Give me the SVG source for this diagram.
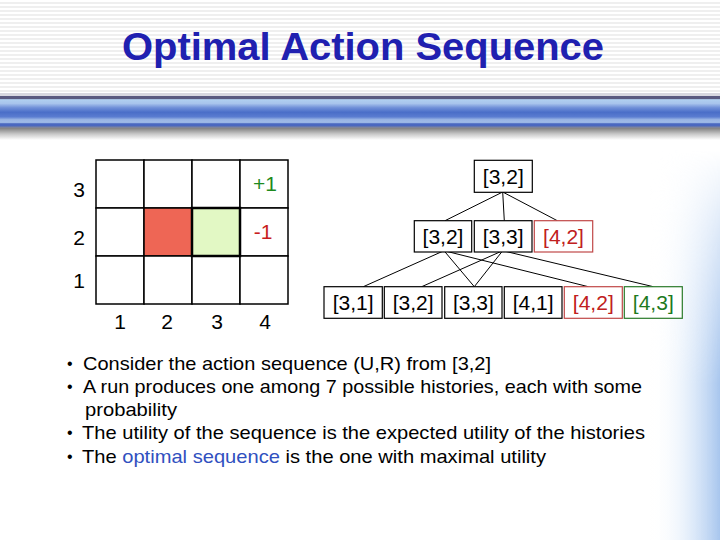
<svg xmlns="http://www.w3.org/2000/svg" width="720" height="540" viewBox="0 0 720 540">
<defs>
  <pattern id="stripes" x="0" y="0" width="8" height="4" patternUnits="userSpaceOnUse">
    <rect width="8" height="4" fill="#ffffff"/>
    <rect y="2" width="8" height="2" fill="#efefef"/>
  </pattern>
  <linearGradient id="band" x1="0" y1="0" x2="0" y2="1">
    <stop offset="0" stop-color="#d8d8e0"/>
    <stop offset="0.08" stop-color="#d8d8e0"/>
    <stop offset="0.1" stop-color="#5a5a80"/>
    <stop offset="0.16" stop-color="#5a5a80"/>
    <stop offset="0.19" stop-color="#b0d0f0"/>
    <stop offset="0.3" stop-color="#a8c4ec"/>
    <stop offset="0.42" stop-color="#7090d8"/>
    <stop offset="0.55" stop-color="#4a6ec8"/>
    <stop offset="0.68" stop-color="#5a7cd0"/>
    <stop offset="0.76" stop-color="#98b4e4"/>
    <stop offset="0.84" stop-color="#a0bce8"/>
    <stop offset="0.88" stop-color="#4a68c0"/>
    <stop offset="0.93" stop-color="#4a68c0"/>
    <stop offset="1" stop-color="#8a8a90"/>
  </linearGradient>
  <linearGradient id="shadow" x1="0" y1="0" x2="0" y2="1">
    <stop offset="0" stop-color="#808080"/>
    <stop offset="0.5" stop-color="#c8c8c8"/>
    <stop offset="1" stop-color="#ffffff"/>
  </linearGradient>
  <linearGradient id="edgeH" x1="0" y1="0" x2="1" y2="0">
    <stop offset="0" stop-color="#ffffff" stop-opacity="0"/>
    <stop offset="0.5" stop-color="#e0ecfa" stop-opacity="0.7"/>
    <stop offset="1" stop-color="#a8c6ee"/>
  </linearGradient>
  <linearGradient id="edgeV" x1="0" y1="0" x2="0" y2="1">
    <stop offset="0" stop-color="#000000"/>
    <stop offset="0.2" stop-color="#606060"/>
    <stop offset="0.6" stop-color="#ffffff"/>
  </linearGradient>
  <mask id="edgeMask">
    <rect x="650" y="150" width="70" height="390" fill="url(#edgeV)"/>
  </mask>
  <style>
    .lbl { font-family: "Liberation Sans", Arial, sans-serif; font-size: 21px; fill: #000; text-anchor: middle; }
    .node rect { fill: #ffffff; stroke: #000; stroke-width: 1.2; }
    .node text { font-family: "Liberation Sans", Arial, sans-serif; font-size: 21px; fill: #000; text-anchor: middle; }
    .red rect { stroke: #c04848; }
    .red text { fill: #c02020; }
    .green rect { stroke: #2a7a2a; }
    .green text { fill: #1e7a1e; }
    .cell { fill: #ffffff; stroke: #000; stroke-width: 1.5; }
    .body { font-family: "Liberation Sans", Arial, sans-serif; font-size: 19px; fill: #000; }
    .dot { font-family: "Liberation Sans", Arial, sans-serif; font-size: 16px; fill: #000; }
    #connectors line { stroke: #000; stroke-width: 1; }
  </style>
</defs>

<rect width="720" height="540" fill="#ffffff"/>
<rect x="0" y="0" width="720" height="94" fill="url(#stripes)"/>
<rect x="650" y="150" width="70" height="390" fill="url(#edgeH)" mask="url(#edgeMask)"/>

<!-- header band -->
<rect x="0" y="93" width="720" height="35" fill="url(#band)"/>
<rect x="0" y="128" width="720" height="12" fill="url(#shadow)"/>

<text x="122" y="60" textLength="482" lengthAdjust="spacingAndGlyphs" font-family="'Liberation Sans', Arial, sans-serif" font-weight="bold" font-size="38" fill="#2020b0">Optimal Action Sequence</text>

<!-- grid -->
<g id="grid">
  <rect class="cell" x="96" y="160" width="48" height="48"/>
  <rect class="cell" x="144" y="160" width="48" height="48"/>
  <rect class="cell" x="192" y="160" width="48" height="48"/>
  <rect class="cell" x="240" y="160" width="48" height="48"/>
  <rect class="cell" x="96" y="208" width="48" height="48"/>
  <rect class="cell" x="144" y="208" width="48" height="48" style="fill:#ee6655"/>
  <rect class="cell" x="240" y="208" width="48" height="48"/>
  <rect class="cell" x="96" y="256" width="48" height="48"/>
  <rect class="cell" x="144" y="256" width="48" height="48"/>
  <rect class="cell" x="192" y="256" width="48" height="48"/>
  <rect class="cell" x="240" y="256" width="48" height="48"/>
  <rect class="cell" x="192" y="208" width="48" height="48" style="fill:#e2f8c4;stroke-width:2.5"/>
  <text class="lbl" x="79" y="197">3</text>
  <text class="lbl" x="79" y="245">2</text>
  <text class="lbl" x="79" y="288">1</text>
  <text class="lbl" x="120" y="329">1</text>
  <text class="lbl" x="167" y="329">2</text>
  <text class="lbl" x="217" y="329">3</text>
  <text class="lbl" x="265" y="329">4</text>
  <text class="lbl" x="265" y="191" style="fill:#1e8a1e">+1</text>
  <text class="lbl" x="263" y="239" style="fill:#c81e1e">-1</text>
</g>

<!-- connectors -->
<g id="connectors">
  <line x1="502.7" y1="192" x2="445" y2="220.7"/>
  <line x1="502.7" y1="192" x2="504.3" y2="220.7"/>
  <line x1="502.7" y1="192" x2="557.3" y2="220.7"/>
  <line x1="444" y1="250.7" x2="363.3" y2="286.7"/>
  <line x1="444" y1="250.7" x2="474.3" y2="286.7"/>
  <line x1="444" y1="250.7" x2="588.3" y2="286.7"/>
  <line x1="502.7" y1="250.7" x2="421.7" y2="286.7"/>
  <line x1="502.7" y1="250.7" x2="474.3" y2="286.7"/>
  <line x1="502.7" y1="250.7" x2="653.3" y2="286.7"/>
</g>

<!-- tree nodes -->
<g id="n-root" class="node"><rect x="474.3" y="160.3" width="58" height="32"/><text x="503.3" y="184">[3,2]</text></g>
<g id="n-l2-32" class="node"><rect x="414.3" y="220.7" width="57.4" height="31.3"/><text x="443" y="244">[3,2]</text></g>
<g id="n-l2-33" class="node"><rect x="474.3" y="220.7" width="57.7" height="31.3"/><text x="503.2" y="244">[3,3]</text></g>
<g id="n-l2-42" class="node red"><rect x="534.3" y="220.7" width="58.4" height="31.3"/><text x="563.5" y="244">[4,2]</text></g>
<g id="n-l3-31" class="node"><rect x="324" y="286.7" width="58.3" height="31.6"/><text x="353.2" y="310">[3,1]</text></g>
<g id="n-l3-32" class="node"><rect x="384.3" y="286.7" width="57.7" height="31.6"/><text x="413.2" y="310">[3,2]</text></g>
<g id="n-l3-33" class="node"><rect x="444.7" y="286.7" width="57.3" height="31.6"/><text x="473.4" y="310">[3,3]</text></g>
<g id="n-l3-41" class="node"><rect x="504.3" y="286.7" width="57.7" height="31.6"/><text x="533.2" y="310">[4,1]</text></g>
<g id="n-l3-42" class="node red"><rect x="564.3" y="286.7" width="58" height="31.6"/><text x="593.3" y="310">[4,2]</text></g>
<g id="n-l3-43" class="node green"><rect x="624.3" y="286.7" width="58" height="31.6"/><text x="653.3" y="310">[4,3]</text></g>

<!-- body text -->
<g id="bullets">
  <text class="dot" x="67" y="369">•</text>
  <text class="body" x="83" y="370" textLength="408" lengthAdjust="spacingAndGlyphs">Consider the action sequence (U,R) from [3,2]</text>
  <text class="dot" x="67" y="392">•</text>
  <text class="body" x="83" y="393" textLength="559" lengthAdjust="spacingAndGlyphs">A run produces one among 7 possible histories, each with some</text>
  <text class="body" x="85" y="416" textLength="92" lengthAdjust="spacingAndGlyphs">probability</text>
  <text class="dot" x="67" y="438">•</text>
  <text class="body" x="82" y="439" textLength="563" lengthAdjust="spacingAndGlyphs">The utility of the sequence is the expected utility of the histories</text>
  <text class="dot" x="67" y="462">•</text>
  <text class="body" x="82" y="463" textLength="464" lengthAdjust="spacingAndGlyphs">The <tspan fill="#3050c0">optimal sequence</tspan> is the one with maximal utility</text>
</g>
</svg>
